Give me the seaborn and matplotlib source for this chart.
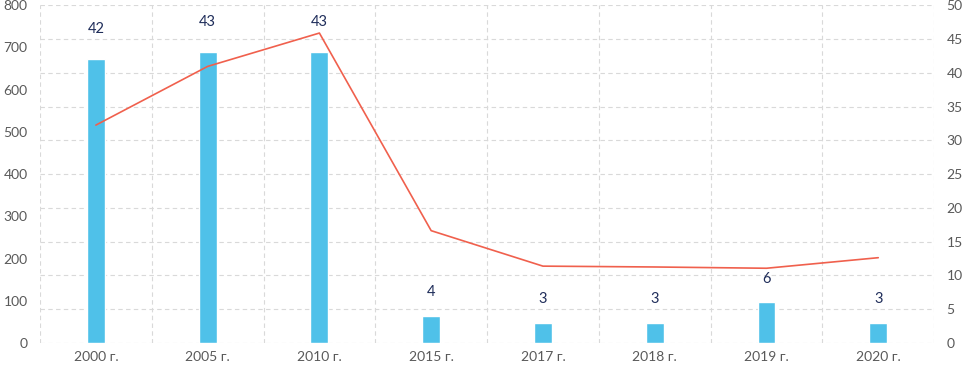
import matplotlib
matplotlib.use("Agg")
import matplotlib.pyplot as plt
import seaborn as sns
import pandas as pd
import numpy as np

# данные с графика
years = ["2000 г.", "2005 г.", "2010 г.", "2015 г.", "2017 г.", "2018 г.", "2019 г.", "2020 г."]
bar_values = [42, 43, 43, 4, 3, 3, 6, 3]          # правая ось
line_values = [516, 655, 734, 266, 182, 180, 177, 202]  # левая ось

df = pd.DataFrame({"year": years, "count": bar_values, "value": line_values})

sns.set_style("white")
plt.rcParams["font.family"] = ["Lato", "DejaVu Sans"]

fig, ax = plt.subplots(figsize=(9.66, 3.7), dpi=100)
fig.subplots_adjust(left=0.0414, right=0.967, top=0.986, bottom=0.073)
ax2 = ax.twinx()

# столбцы (правая шкала)
sns.barplot(data=df, x="year", y="count", color="#4FC1E9", saturation=1,
            width=0.16, ax=ax, zorder=2)
ax.set_ylim(0, 50)
ax.set_yticks(np.arange(0, 51, 5))
ax.set_xlim(-0.5, len(years) - 0.5)
ax.set_xlabel("")
ax.set_ylabel("")

# подписи над столбцами - на верхней оси, чтобы линия их не перекрывала
for i, v in enumerate(bar_values):
    off = 17 if v > 20 else 12
    ax2.annotate(str(v), (i, v), xycoords=ax.transData, xytext=(0, off),
                 textcoords="offset points", ha="center", va="bottom",
                 fontsize=10.5, color="#1F2D5A", zorder=5)

# сетка
ax.set_xticks(np.arange(-0.5, len(years)), minor=True)
ax.grid(True, which="minor", axis="x", color="#D9D9D9", linestyle=(0, (4, 3)), linewidth=0.8)
ax.grid(True, which="major", axis="y", color="#D9D9D9", linestyle=(0, (4, 3)), linewidth=0.8)
ax.set_axisbelow(True)

# линия (левая шкала)
sns.lineplot(x=np.arange(len(years)), y=line_values, color="#F0604D", linewidth=1.2, ax=ax2)
ax2.set_ylim(0, 800)
ax2.set_yticks(np.arange(0, 801, 100))
ax2.set_ylabel("")

# левая шкала - линия, правая - столбцы
ax.yaxis.tick_right()
ax2.yaxis.tick_left()
ax.tick_params(axis="both", which="both", length=0, colors="#595959", labelsize=10)
ax.tick_params(axis="x", pad=6)
ax.tick_params(axis="y", pad=9)
ax2.tick_params(axis="y", length=0, colors="#595959", labelsize=10, pad=9)

for a in (ax, ax2):
    for s in a.spines.values():
        s.set_visible(False)

fig.savefig("out.png", dpi=100)
